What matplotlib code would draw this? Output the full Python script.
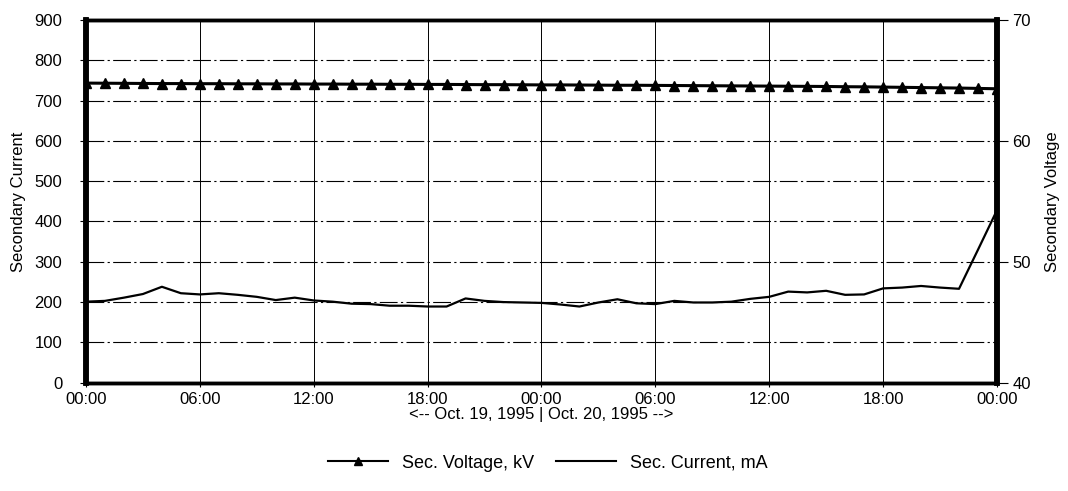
import numpy as np
import matplotlib.pyplot as plt
from matplotlib.lines import Line2D

plt.rcParams['font.family'] = ['Liberation Sans', 'DejaVu Sans']
plt.rcParams['font.size'] = 12

# hourly readings, 00:00 Oct 19 to 00:00 Oct 21
hours = np.arange(49)
current = [201, 203, 211, 220, 238, 222, 219, 222, 218, 213,
           205, 211, 204, 201, 196, 195, 191, 191, 189, 189,
           209, 203, 200, 199, 198, 194, 189, 199, 207, 197,
           195, 203, 199, 199, 201, 208, 213, 226, 224, 228,
           218, 219, 234, 236, 240, 236, 233, 330, 428]
voltage = [64.78, 64.77, 64.76, 64.75, 64.74, 64.74, 64.73, 64.73, 64.72, 64.72,
           64.71, 64.71, 64.70, 64.70, 64.69, 64.69, 64.68, 64.68, 64.67, 64.67,
           64.66, 64.65, 64.65, 64.64, 64.63, 64.63, 64.62, 64.61, 64.60, 64.60,
           64.59, 64.58, 64.57, 64.56, 64.55, 64.54, 64.53, 64.52, 64.51, 64.50,
           64.48, 64.47, 64.45, 64.43, 64.41, 64.39, 64.37, 64.34, 64.31]
tick_hours = [0, 6, 12, 18, 24, 30, 36, 42, 48]
tick_labels = ['00:00', '06:00', '12:00', '18:00', '00:00', '06:00', '12:00', '18:00', '00:00']

fig = plt.figure(figsize=(10.68, 4.91), dpi=100)
ax = fig.add_axes([0.0805, 0.2206, 0.853, 0.7387])
ax2 = ax.twinx()

# grid
for h in tick_hours[1:-1]:
    ax.axvline(h, color='black', lw=0.7, zorder=1)
for v in range(100, 900, 100):
    ax.axhline(v, color='black', lw=0.8, linestyle=(0, (16, 3, 2, 3)), zorder=1)

ax.plot(hours, current, color='black', lw=1.6, zorder=3)
ax2.plot(hours, voltage, color='black', lw=2.2, marker='^', markersize=6.5, zorder=4)

ax.set_xlim(0, 48)
ax.set_ylim(0, 900)
ax2.set_ylim(40, 70)
ax.set_yticks(range(0, 1000, 100))
ax2.set_yticks([40, 50, 60, 70])
ax.set_xticks(tick_hours)
ax.set_xticklabels(tick_labels)

ax.tick_params(axis='y', length=4, width=0.8, pad=13)
ax.tick_params(axis='x', length=3, width=0.8, pad=4)
ax2.tick_params(axis='y', length=8, width=0.8, pad=3)

ax.set_ylabel('Secondary Current', labelpad=6)
ax2.set_ylabel('Secondary Voltage', labelpad=10)
ax.set_xlabel('<-- Oct. 19, 1995 | Oct. 20, 1995 -->', labelpad=0)

for a in (ax, ax2):
    a.spines['left'].set_linewidth(4)
    a.spines['right'].set_linewidth(4)
    a.spines['top'].set_linewidth(2.5)
    a.spines['bottom'].set_linewidth(2.5)

handles = [Line2D([], [], color='black', lw=1.5, marker='^', markersize=6),
           Line2D([], [], color='black', lw=1.5)]
fig.legend(handles, ['Sec. Voltage, kV', 'Sec. Current, mA'], loc='center',
           bbox_to_anchor=(0.513, 0.057), ncol=2, frameon=False, fontsize=13,
           handlelength=3.3, handletextpad=0.8, columnspacing=1.2, numpoints=1)

fig.savefig('out.png', dpi=100)
